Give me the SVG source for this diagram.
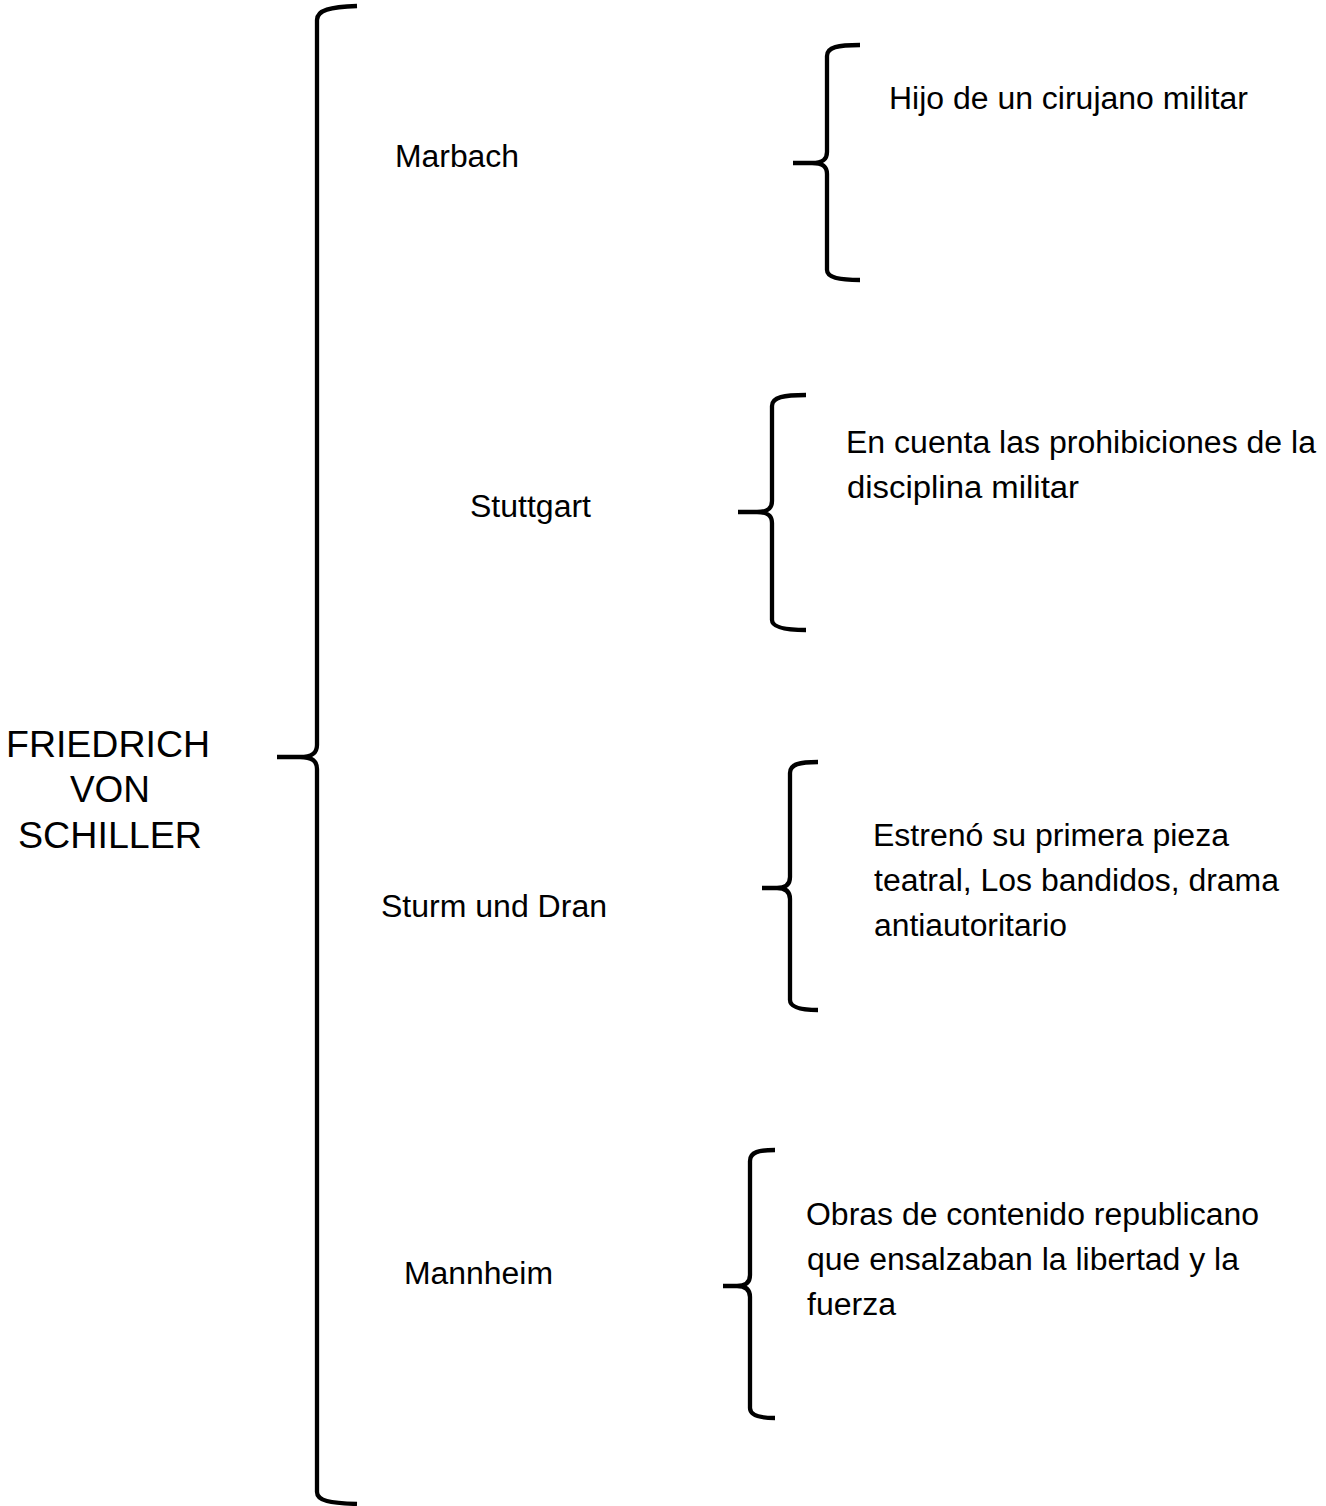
<svg xmlns="http://www.w3.org/2000/svg" width="1326" height="1506" viewBox="0 0 1326 1506">
<style>
.t{font-family:"Liberation Sans",Arial,sans-serif;font-size:31px;fill:#000}
.title{font-family:"Liberation Sans",Arial,sans-serif;font-size:36.5px;fill:#000}
.br{fill:none;stroke:#000;stroke-width:4.3;stroke-linecap:butt;stroke-linejoin:round}
</style>
<rect width="1326" height="1506" fill="#fff"/>
<g id="connectors">
<path class="br" d="M357,6 C330,7 317,10 317,20 L317,745 C317,753 312,757 300,757 L277,757 M300,757 C312,757 317,761 317,769 L317,1492 C317,1501 330,1503 357,1504"/>
<path class="br" d="M860,45 C838,45 827,47 827,56 L827,152 C827,159 823,163 812,163 L793,163 M812,163 C823,163 827,167 827,174 L827,270 C827,277 838,280 860,280"/>
<path class="br" d="M806,395 C784,395 772,397 772,406 L772,501 C772,508 768,512 757,512 L738,512 M757,512 C768,512 772,516 772,523 L772,620 C772,627 784,630 806,630"/>
<path class="br" d="M818,762 C800,762 790,764 790,773 L790,877 C790,884 786,888 777,888 L762,888 M777,888 C786,888 790,892 790,899 L790,1000 C790,1007 800,1010 818,1010"/>
<path class="br" d="M775,1150 C759,1150 750,1152 750,1161 L750,1275 C750,1282 746,1286 737,1286 L723,1286 M737,1286 C746,1286 750,1290 750,1297 L750,1408 C750,1415 759,1418 775,1418"/>
</g>
<g id="root">
<text class="title" x="6" y="757" textLength="204" lengthAdjust="spacingAndGlyphs">FRIEDRICH</text>
<text class="title" x="70" y="802" textLength="80" lengthAdjust="spacingAndGlyphs">VON</text>
<text class="title" x="18" y="848" textLength="184" lengthAdjust="spacingAndGlyphs">SCHILLER</text>
</g>
<g id="marbach">
<text class="t" x="395" y="167" textLength="124" lengthAdjust="spacingAndGlyphs">Marbach</text>
</g>
<g id="marbach-detail">
<text class="t" x="889" y="109" textLength="359" lengthAdjust="spacingAndGlyphs">Hijo de un cirujano militar</text>
</g>
<g id="stuttgart">
<text class="t" x="470" y="517" textLength="121" lengthAdjust="spacingAndGlyphs">Stuttgart</text>
</g>
<g id="stuttgart-detail">
<text class="t" x="846" y="453" textLength="470" lengthAdjust="spacingAndGlyphs">En cuenta las prohibiciones de la</text>
<text class="t" x="847" y="498" textLength="232" lengthAdjust="spacingAndGlyphs">disciplina militar</text>
</g>
<g id="sturm">
<text class="t" x="381" y="917" textLength="226" lengthAdjust="spacingAndGlyphs">Sturm und Dran</text>
</g>
<g id="sturm-detail">
<text class="t" x="873" y="846" textLength="356" lengthAdjust="spacingAndGlyphs">Estrenó su primera pieza</text>
<text class="t" x="874" y="891" textLength="405" lengthAdjust="spacingAndGlyphs">teatral, Los bandidos, drama</text>
<text class="t" x="874" y="936" textLength="193" lengthAdjust="spacingAndGlyphs">antiautoritario</text>
</g>
<g id="mannheim">
<text class="t" x="404" y="1284" textLength="149" lengthAdjust="spacingAndGlyphs">Mannheim</text>
</g>
<g id="mannheim-detail">
<text class="t" x="806" y="1225" textLength="453" lengthAdjust="spacingAndGlyphs">Obras de contenido republicano</text>
<text class="t" x="807" y="1270" textLength="432" lengthAdjust="spacingAndGlyphs">que ensalzaban la libertad y la</text>
<text class="t" x="807" y="1315" textLength="89" lengthAdjust="spacingAndGlyphs">fuerza</text>
</g>
</svg>
